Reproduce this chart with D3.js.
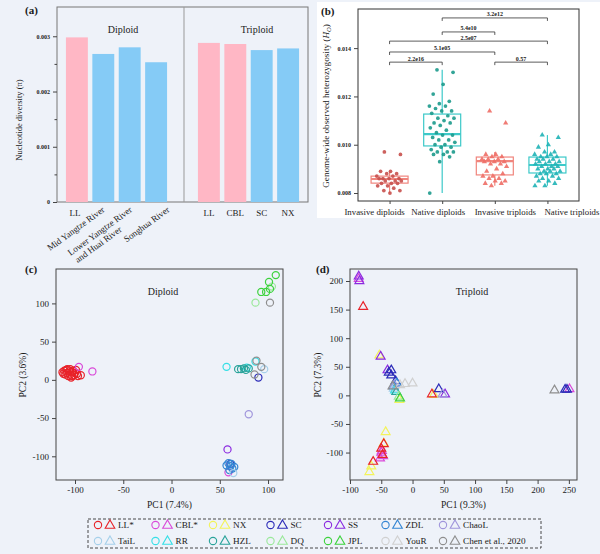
<!DOCTYPE html>
<html lang="en">
<head>
<meta charset="utf-8">
<title>Nucleotide diversity, heterozygosity and PCA</title>
<script src="https://d3js.org/d3.v7.min.js"></script>
<style>
  body { margin: 0; background: #eef2f9; }
  svg text { font-family: "Liberation Serif", "DejaVu Serif", serif; fill: #1a1a1a; }
</style>
</head>
<body>
<svg id="fig" width="600" height="554"></svg>
<script>
// ---------- (a) nucleotide diversity ----------
var diploidCats = ["LL", "Mid Yangtze River", "Lower Yangtze River\nand Huai River", "Songhua River"];
var diploidPi = [0.00298, 0.00268, 0.00280, 0.00253];
var triploidCats = ["LL", "CBL", "SC", "NX"];
var triploidPi = [0.00288, 0.00286, 0.00275, 0.00278];
var pinkCats = ["LL", "CBL"];
var piTicks = [0, 0.001, 0.002, 0.003];
var piMinor = [0.0005, 0.0015, 0.0025];

// ---------- (b) heterozygosity ----------
var hoGroups = ["Invasive diploids", "Native diploids", "Invasive triploids", "Native triploids"];
var hoInvDip = [0.0097, 0.0096, 0.0089, 0.0089, 0.0088, 0.0088, 0.0087, 0.0087, 0.0086, 0.0086, 0.0086, 0.0086,
                0.0085, 0.0085, 0.0085, 0.0084, 0.0084, 0.0084, 0.0083, 0.0083, 0.0082, 0.0081, 0.0081, 0.0080];
var hoNatDip = [0.0131, 0.0130, 0.0125, 0.0121, 0.0118, 0.0117, 0.0116, 0.0116, 0.0115, 0.0114, 0.0114, 0.0113,
                0.0112, 0.0111, 0.0111, 0.0110, 0.0109, 0.0109, 0.0108, 0.0107, 0.0106, 0.0105, 0.0104, 0.0104,
                0.0103, 0.0102, 0.0102, 0.0101, 0.0100, 0.0100, 0.0099, 0.0099, 0.0098, 0.0097, 0.0097, 0.0097,
                0.0096, 0.0096, 0.0095, 0.0093, 0.0080];
var hoInvTri = [0.0114, 0.0109, 0.0096, 0.0096, 0.0095, 0.0095, 0.0094, 0.0094, 0.0094, 0.0093, 0.0093, 0.0093,
                0.0092, 0.0092, 0.0091, 0.0090, 0.0089, 0.0088, 0.0087, 0.0087, 0.0086, 0.0086, 0.0085, 0.0085,
                0.0084, 0.0084, 0.0083];
var hoNatTri = [0.0104, 0.0103, 0.0100, 0.0099, 0.0097, 0.0097, 0.0096, 0.0096, 0.0095, 0.0095, 0.0095, 0.0094,
                0.0094, 0.0094, 0.0093, 0.0093, 0.0093, 0.0092, 0.0092, 0.0092, 0.0091, 0.0091, 0.0091, 0.0090,
                0.0090, 0.0090, 0.0089, 0.0089, 0.0089, 0.0088, 0.0088, 0.0088, 0.0087, 0.0087, 0.0086, 0.0086,
                0.0085, 0.0085, 0.0084, 0.0083, 0.0083];
var boxQ1 = [0.00841, 0.00995, 0.00875, 0.00883];
var boxMed = [0.00858, 0.01044, 0.00932, 0.00916];
var boxQ3 = [0.00870, 0.01127, 0.00949, 0.00949];
var whiskLo = [0.0080, 0.0080, 0.0083, 0.0083];
var whiskHi = [0.0089, 0.0131, 0.0097, 0.0104];
var compPairs = [[1, 3], [1, 2], [0, 3], [0, 2], [0, 1], [2, 3]];
var compLabels = ["3.2e12", "5.4e10", "2.5e07", "5.1e05", "2.2e16", "0.57"];
var compLevels = [0.01525, 0.01467, 0.01429, 0.01384, 0.01342, 0.01342];
var hoTicks = [0.008, 0.010, 0.012, 0.014];

// ---------- (c)/(d) PCA ----------
var popNames = ["LL*", "CBL*", "NX", "SC", "SS", "ZDL", "ChaoL", "TaiL", "RR", "HZL", "DQ", "JPL", "YouR", "Chen et al., 2020"];
var popColors = ["#e8232a", "#d94ad9", "#f3f35c", "#2b2bb8", "#8b2be0", "#3385d3", "#a096dc",
                 "#a6d0ea", "#35dfe6", "#2aa39a", "#9ae89a", "#3dd23d", "#d0d0d0", "#8e8e8e"];
// [population index, PC1, PC2]
var pcaDiploid = [
  [0, -113, 10], [0, -111, 12], [0, -110, 7], [0, -109, 13], [0, -108, 9], [0, -107, 5], [0, -106, 11],
  [0, -105, 14], [0, -105, 7], [0, -104, 3], [0, -103, 10], [0, -102, 12], [0, -101, 6], [0, -100, 9],
  [0, -99, 13], [0, -98, 8], [0, -97, 5], [0, -94, 6], [0, -108, 14], [0, -112, 8], [0, -103, 5],
  [1, -96, 17], [1, -82, 11], [1, 59, -121],
  [3, 90, 3], [3, 61, -110],
  [4, 58, -91],
  [5, 57, -112], [5, 59, -109], [5, 61, -113], [5, 62, -110], [5, 63, -116], [5, 60, -118], [5, 65, -114],
  [6, 80, -45],
  [7, 96, 14], [7, 64, -122],
  [8, 57, 17], [8, 87, 24], [8, 78, 16],
  [9, 69, 14], [9, 72, 14], [9, 75, 15], [9, 77, 13], [9, 80, 15],
  [10, 87, 101], [10, 104, 122],
  [11, 93, 115], [11, 98, 115], [11, 102, 119], [11, 101, 128], [11, 108, 137],
  [13, 102, 101], [13, 88, 25], [13, 86, 7], [13, 93, 17]
];
var pcaTriploid = [
  [2, -53, 70], [2, -43, -64], [2, -66, -124], [2, -69, -134], [2, -21, -8], [2, -46, -84], [2, 34, 1],
  [1, -86, 204], [1, -50, -100], [1, -47, -106], [1, -52, -110], [1, 251, 11], [1, -49, -97],
  [4, -86, 208], [4, -85, 200], [4, -51, 68], [4, 52, 2], [4, -40, 44],
  [3, -34, 44], [3, -34, 35], [3, -27, 25], [3, 42, 11], [3, 244, 10], [3, 247, 10], [3, -38, 40],
  [0, -79, 155], [0, 31, 2], [0, -50, -93], [0, -63, -116], [0, -48, -104], [0, -46, -85],
  [5, -25, 21], [5, -30, 16],
  [6, 48, 2], [6, -29, 18],
  [7, -30, 12],
  [8, -28, 9],
  [9, -26, 6],
  [10, -22, -2],
  [11, -20, -5],
  [12, -12, 20], [12, 0, 21], [12, -20, 18],
  [13, 227, 9], [13, -32, 16]
];
var pcTicksC = [-100, -50, 0, 50, 100];
var pcTicksDx = [-100, -50, 0, 50, 100, 150, 200, 250];
var pcTicksDy = [-100, -50, 0, 50, 100, 150, 200];

var svg = d3.select("#fig");
svg.append("rect").attr("width", 600).attr("height", 554).attr("fill", "#eef2f9");

function panelTag(x, y, t) {
  svg.append("text").attr("x", x).attr("y", y).attr("font-size", 11).attr("font-weight", "bold").text(t);
}
function cleanAxis(g) {
  g.select(".domain").remove();
  g.selectAll("line").attr("stroke", "#444");
  g.selectAll("text").attr("fill", "#1a1a1a").attr("font-family", "Liberation Serif, serif");
}

// ===== panel (a) =====
var ya = d3.scaleLinear().domain([0, 0.00353]).range([202, 7]);
var xaD = d3.scaleBand().domain(diploidCats).range([63.7, 169.3]).paddingInner(0.17).paddingOuter(0.085);
var xaT = d3.scaleBand().domain(triploidCats).range([195.7, 301.3]).paddingInner(0.17).paddingOuter(0.085);
var ga = svg.append("g");
ga.append("rect").attr("x", 57).attr("y", 7).attr("width", 251).attr("height", 195)
  .attr("fill", "none").attr("stroke", "#777").attr("stroke-width", 1);
ga.append("line").attr("x1", 184).attr("x2", 184).attr("y1", 7).attr("y2", 202)
  .attr("stroke", "#999").attr("stroke-width", 1);

ga.selectAll(".barD").data(diploidPi).enter().append("rect")
  .attr("x", function(d, i) { return xaD(diploidCats[i]); })
  .attr("width", xaD.bandwidth())
  .attr("y", function(d) { return ya(d); })
  .attr("height", function(d) { return ya(0) - ya(d); })
  .attr("fill", function(d, i) { return pinkCats.indexOf(diploidCats[i]) >= 0 ? "#ffb7c5" : "#85cbf6"; });
ga.selectAll(".barT").data(triploidPi).enter().append("rect")
  .attr("x", function(d, i) { return xaT(triploidCats[i]); })
  .attr("width", xaT.bandwidth())
  .attr("y", function(d) { return ya(d); })
  .attr("height", function(d) { return ya(0) - ya(d); })
  .attr("fill", function(d, i) { return pinkCats.indexOf(triploidCats[i]) >= 0 ? "#ffb7c5" : "#85cbf6"; });

var yaAxis = ga.append("g").attr("transform", "translate(57,0)")
  .call(d3.axisLeft(ya).tickValues(piTicks).tickSize(4)
    .tickFormat(function(d) { return d === 0 ? "0" : d3.format(".3f")(d); }));
cleanAxis(yaAxis);
yaAxis.selectAll("text").attr("font-size", 6).attr("font-weight", "bold");
var yaMinor = ga.append("g").attr("transform", "translate(57,0)")
  .call(d3.axisLeft(ya).tickValues(piMinor).tickSize(2.5).tickFormat(""));
cleanAxis(yaMinor);

ga.append("text").attr("transform", "translate(22,120) rotate(-90)").attr("text-anchor", "middle")
  .attr("font-size", 8.5).text("Nucleotide diversity (\u03c0)");
ga.append("text").attr("x", 123).attr("y", 33).attr("text-anchor", "middle").attr("font-size", 10).text("Diploid");
ga.append("text").attr("x", 257).attr("y", 33).attr("text-anchor", "middle").attr("font-size", 10).text("Triploid");

// x labels (a)
var nudge = [0, 2, 3, 14];
diploidCats.forEach(function(c, i) {
  var cx = xaD(c) + xaD.bandwidth() / 2;
  var lines = c.split("\n");
  if (c.length <= 3) {
    ga.append("text").attr("x", cx - 2).attr("y", 216).attr("text-anchor", "middle").attr("font-size", 9).text(c);
  } else {
    var t = ga.append("text").attr("transform", "translate(" + (cx + nudge[i]) + ",211) rotate(-36)")
      .attr("text-anchor", "end").attr("font-size", 9);
    lines.forEach(function(l, k) {
      t.append("tspan").attr("x", k === 0 ? 0 : -20).attr("dy", k === 0 ? 0 : "1.1em").text(l);
    });
  }
});
triploidCats.forEach(function(c) {
  ga.append("text").attr("x", xaT(c) + xaT.bandwidth() / 2).attr("y", 216)
    .attr("text-anchor", "middle").attr("font-size", 9).text(c);
});
panelTag(25, 14, "(a)");

// ===== panel (b) =====
var gb = svg.append("g");
gb.append("rect").attr("x", 317).attr("y", 2).attr("width", 283).attr("height", 216).attr("fill", "#ffffff");
var yb = d3.scaleLinear().domain([0.00767, 0.01562]).range([201, 9]);
var xb = d3.scalePoint().domain(hoGroups).range([358, 579]).padding(0.6);
var boxW = 37;
var lineCols = ["#f0857d", "#3cc9c9", "#f0857d", "#3cc9c9"];
var ptCols = ["#c8504c", "#1c9a8c", "#ee6e66", "#1fb2b6"];
var hoAll = [hoInvDip, hoNatDip, hoInvTri, hoNatTri];

hoGroups.forEach(function(g, i) {
  var cx = xb(g);
  gb.append("line").attr("x1", cx).attr("x2", cx).attr("y1", yb(whiskHi[i])).attr("y2", yb(boxQ3[i]))
    .attr("stroke", lineCols[i]).attr("stroke-width", 1.2);
  gb.append("line").attr("x1", cx).attr("x2", cx).attr("y1", yb(boxQ1[i])).attr("y2", yb(whiskLo[i]))
    .attr("stroke", lineCols[i]).attr("stroke-width", 1.2);
  gb.append("rect").attr("x", cx - boxW / 2).attr("width", boxW)
    .attr("y", yb(boxQ3[i])).attr("height", yb(boxQ1[i]) - yb(boxQ3[i]))
    .attr("fill", "none").attr("stroke", lineCols[i]).attr("stroke-width", 1.2);
  gb.append("line").attr("x1", cx - boxW / 2).attr("x2", cx + boxW / 2)
    .attr("y1", yb(boxMed[i])).attr("y2", yb(boxMed[i]))
    .attr("stroke", lineCols[i]).attr("stroke-width", 2.2);
});

// jittered points (deterministic spread)
hoAll.forEach(function(vals, i) {
  var cx = xb(hoGroups[i]);
  var tri = i >= 2;
  gb.selectAll(".pt" + i).data(vals).enter().append("path")
    .attr("d", d3.symbol().type(tri ? d3.symbolTriangle : d3.symbolCircle).size(tri ? 12 : 11))
    .attr("transform", function(d, k) {
      var j = ((k * 0.618034 + 0.3) % 1) - 0.5;
      return "translate(" + (cx + j * 26) + "," + yb(d) + ")";
    })
    .attr("fill", ptCols[i]).attr("opacity", 0.9);
});

// significance brackets
compPairs.forEach(function(p, i) {
  var x1 = xb(hoGroups[p[0]]), x2 = xb(hoGroups[p[1]]), y = yb(compLevels[i]);
  gb.append("path").attr("d", "M" + x1 + "," + (y + 3) + "V" + y + "H" + x2 + "V" + (y + 3))
    .attr("fill", "none").attr("stroke", "#333").attr("stroke-width", 0.8);
  gb.append("text").attr("x", (x1 + x2) / 2).attr("y", y - 1.5).attr("text-anchor", "middle")
    .attr("font-size", 6).attr("font-weight", "bold").text(compLabels[i]);
});

gb.append("rect").attr("x", 358).attr("y", 9).attr("width", 221).attr("height", 192)
  .attr("fill", "none").attr("stroke", "#333").attr("stroke-width", 1);
var ybAxis = gb.append("g").attr("transform", "translate(358,0)")
  .call(d3.axisLeft(yb).tickValues(hoTicks).tickSize(4).tickFormat(d3.format(".3f")));
cleanAxis(ybAxis);
ybAxis.selectAll("text").attr("font-size", 6).attr("font-weight", "bold");
var xbAxis = gb.append("g").attr("transform", "translate(0,201)")
  .call(d3.axisBottom(xb).tickSize(3));
cleanAxis(xbAxis);
// the category labels sit spread out under the ticks in the original figure
var xbShift = [-15.5, -4.5, 10, 24];
xbAxis.selectAll("text").attr("font-size", 8.8).attr("dy", "0.95em")
  .attr("x", function(d, i) { return xbShift[i]; });

var ybLab = gb.append("text").attr("transform", "translate(329,106) rotate(-90)").attr("text-anchor", "middle")
  .attr("font-size", 9.2);
ybLab.append("tspan").text("Genome-wide observed heterozygosity (");
ybLab.append("tspan").attr("font-style", "italic").text("H");
ybLab.append("tspan").attr("font-style", "italic").attr("font-size", 6.5).attr("dy", 2).text("O");
ybLab.append("tspan").attr("dy", -2).text(")");
panelTag(321, 15, "(b)");

// ===== PCA panels =====
function pcaPanel(opt) {
  var g = svg.append("g");
  var x = d3.scaleLinear().domain(opt.xd).range([opt.x0, opt.x1]);
  var y = d3.scaleLinear().domain(opt.yd).range([480, 269]);
  g.append("rect").attr("x", opt.x0).attr("y", 269).attr("width", opt.x1 - opt.x0).attr("height", 211)
    .attr("fill", "none").attr("stroke", "#444").attr("stroke-width", 1);
  var xA = g.append("g").attr("transform", "translate(0,480)")
    .call(d3.axisBottom(x).tickValues(opt.xt).tickSize(4).tickFormat(function(d) { return String(d); }));
  cleanAxis(xA);
  xA.selectAll("text").attr("font-size", 9);
  var yA = g.append("g").attr("transform", "translate(" + opt.x0 + ",0)")
    .call(d3.axisLeft(y).tickValues(opt.yt).tickSize(4).tickFormat(function(d) { return String(d); }));
  cleanAxis(yA);
  yA.selectAll("text").attr("font-size", 9);
  g.append("text").attr("x", (opt.x0 + opt.x1) / 2).attr("y", 508).attr("text-anchor", "middle")
    .attr("font-size", 9.5).text(opt.xl);
  g.append("text").attr("transform", "translate(" + opt.ylx + ",375) rotate(-90)").attr("text-anchor", "middle")
    .attr("font-size", 9.5).text(opt.yl);
  g.append("text").attr("x", opt.tx).attr("y", 295).attr("text-anchor", "middle").attr("font-size", 10).text(opt.title);
  var sym = d3.symbol().type(opt.tri ? d3.symbolTriangle : d3.symbolCircle).size(opt.tri ? 34 : 40);
  g.selectAll(".pc").data(opt.data).enter().append("path")
    .attr("d", sym)
    .attr("transform", function(d) { return "translate(" + x(d[1]) + "," + y(d[2]) + ")"; })
    .attr("fill", "none").attr("stroke", function(d) { return popColors[d[0]]; }).attr("stroke-width", 1.2);
}
pcaPanel({ x0: 56, x1: 283, xd: [-119.7, 115.5], yd: [-131, 145], xt: pcTicksC, yt: pcTicksC,
  xl: "PC1 (7.4%)", yl: "PC2 (3.6%)", ylx: 26, title: "Diploid", tx: 163, data: pcaDiploid, tri: false });
pcaPanel({ x0: 350, x1: 577, xd: [-100, 263], yd: [-148, 221], xt: pcTicksDx, yt: pcTicksDy,
  xl: "PC1 (9.3%)", yl: "PC2 (7.3%)", ylx: 321, title: "Triploid", tx: 472, data: pcaTriploid, tri: true });
panelTag(25, 273, "(c)");
panelTag(316, 273, "(d)");

// ===== legend =====
var gl = svg.append("g");
gl.append("rect").attr("x", 88).attr("y", 519).attr("width", 453).attr("height", 29)
  .attr("fill", "none").attr("stroke", "#333").attr("stroke-width", 0.9).attr("stroke-dasharray", "3,2");
popNames.forEach(function(n, i) {
  var col = i % 7, row = Math.floor(i / 7);
  var lx = 98 + col * 57.5, ly = 525 + row * 16;
  gl.append("path").attr("d", d3.symbol().type(d3.symbolCircle).size(42))
    .attr("transform", "translate(" + lx + "," + ly + ")")
    .attr("fill", "none").attr("stroke", popColors[i]).attr("stroke-width", 1.1);
  gl.append("path").attr("d", d3.symbol().type(d3.symbolTriangle).size(40))
    .attr("transform", "translate(" + (lx + 12) + "," + (ly + 0.5) + ")")
    .attr("fill", "none").attr("stroke", popColors[i]).attr("stroke-width", 1.1);
  gl.append("text").attr("x", lx + 20).attr("y", ly + 3).attr("font-size", 9.2).text(n);
});
</script>
</body>
</html>
